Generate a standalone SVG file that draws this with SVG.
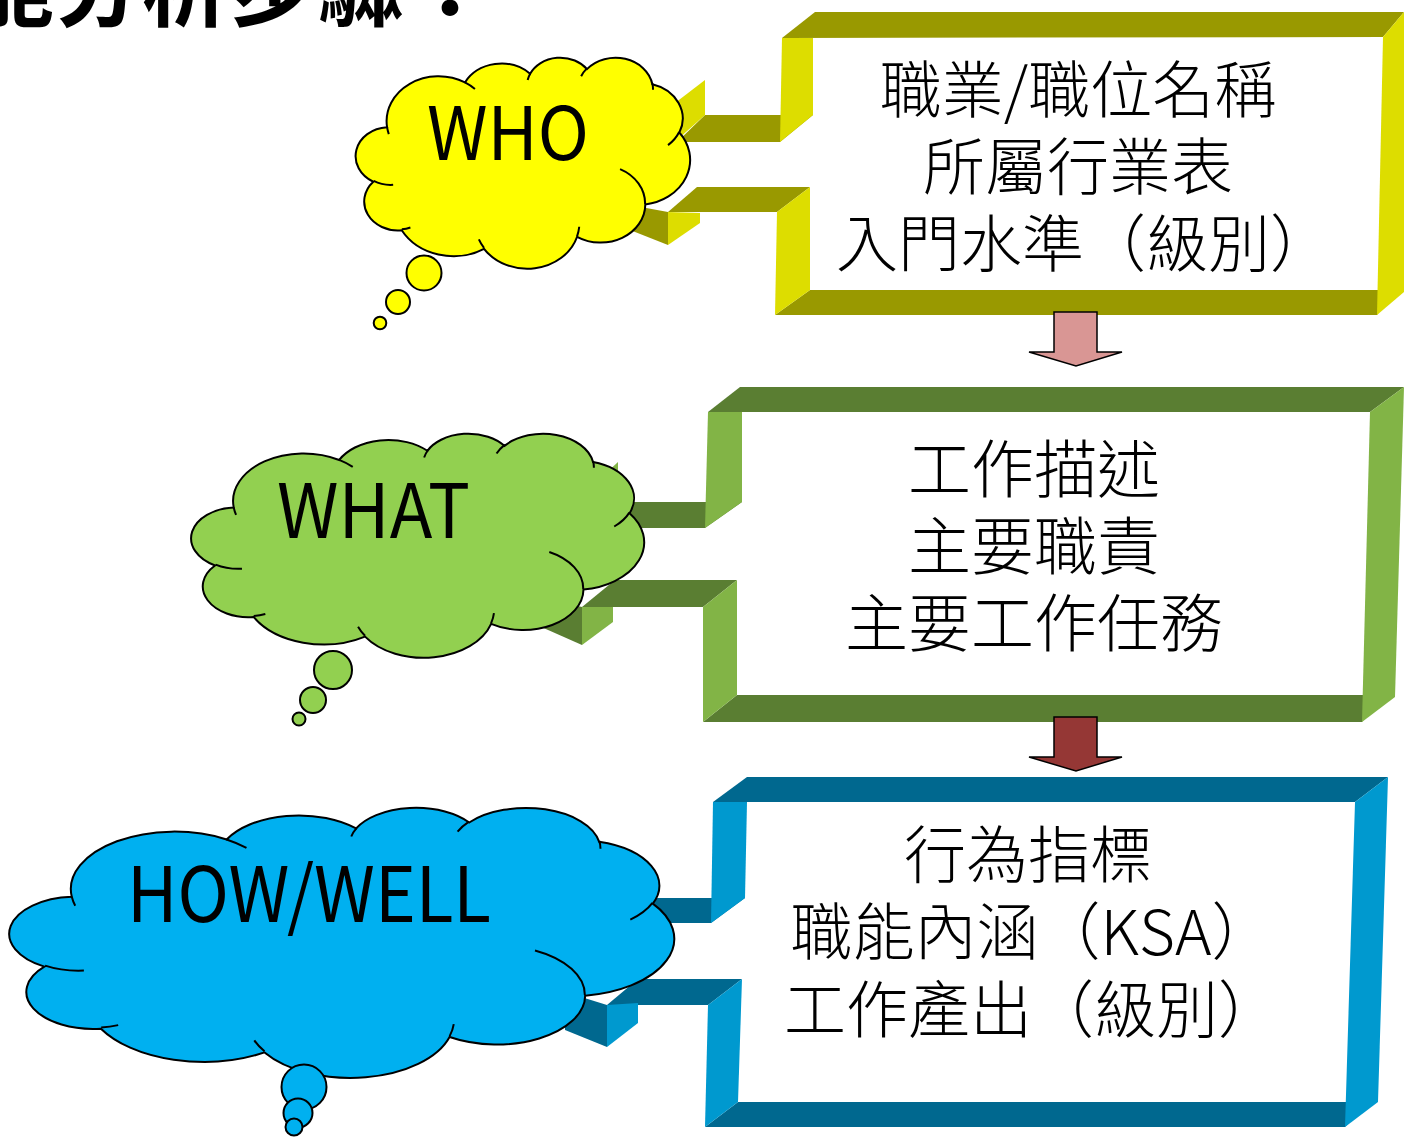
<svg xmlns="http://www.w3.org/2000/svg" width="1404" height="1137" viewBox="0 0 1404 1137">
<style>
.yd{fill:#999900}.yl{fill:#DDDD00}
.gd{fill:#5A7E32}.gl{fill:#82B446}
.bd{fill:#00688F}.bl{fill:#0099CF}
.cloud{stroke:#000;stroke-width:2}
.bubble{stroke:#000;stroke-width:2}
.lbl{font-family:"Noto Sans CJK TC","Noto Sans",sans-serif;fill:#000}
.txt{font-family:"Noto Sans CJK TC",sans-serif;text-anchor:middle;font-weight:300;fill:#000}
.arrow{stroke:#000;stroke-width:1.5}
</style>
<defs>
<path id="cloudShape" vector-effect="non-scaling-stroke" d="M 9.03 33.26 A 15.63 21.27 0 0 1 32.42 12.04 A 12.345 16.822 0 0 1 51.98 7.94 A 10.104 13.762 0 0 1 69.06 5.74 A 11.243 15.266 0 0 1 88.70 12.91 A 12.345 16.836 0 0 1 96.80 35.79 A 15.683 21.343 0 0 1 86.58 69.91 A 13.391 18.211 0 0 1 66.10 85.21 A 15.630 21.331 0 0 1 38.15 90.89 A 17.870 24.405 0 0 1 13.43 82.10 A 10.093 13.699 0 0 1 4.89 59.13 A 10.058 13.762 0 0 1 9.03 33.26 Z"/>
<path id="cloudInner" vector-effect="non-scaling-stroke" fill="none" d="M 10.86 60.59 A 10.058 13.762 0 0 1 5.00 58.75 M 16.04 80.78 A 10.093 13.699 0 0 1 13.47 81.67 M 38.14 90.49 A 15.630 21.331 0 0 1 36.60 86.45 M 66.73 80.44 A 15.630 21.331 0 0 1 66.11 84.86 M 79.00 53.13 A 13.391 18.211 0 0 1 86.53 69.65 M 96.75 35.54 A 12.345 16.836 0 0 1 93.40 41.74 M 88.71 12.56 A 11.243 15.266 0 0 1 88.89 15.49 M 67.31 9.15 A 11.243 15.266 0 0 1 69.03 5.41 M 51.25 10.93 A 10.104 13.762 0 0 1 52.08 7.71 M 32.41 12.02 A 15.632 21.273 0 0 1 35.42 15.14 M 9.55 36.55 A 15.632 21.273 0 0 1 9.03 33.26"/>
</defs>

<text x="-122" y="19" class="lbl" font-size="88" font-weight="bold">職能分析步驟：</text>

<g id="box-who">
<polygon class="yd" points="782,38 815,12 1404,12 1383,37"/>
<polygon class="yd" points="775,315 810,290 1395,290 1377,315"/>
<polygon class="yl" points="1383,37 1404,12 1404,292 1377,315"/>
<polygon class="yd" points="677,142 705,115 813,115 780,142"/>
<polygon class="yl" points="675,103 705,80 705,115 677,140"/>
<polygon class="yl" points="782,38 813,38 813,115 780,142"/>
<polygon class="yd" points="630,205 668,212 668,245 630,230"/>
<polygon class="yd" points="668,212 697,187 810,187 777,212"/>
<polygon class="yl" points="668,212 700,213 700,223 668,245"/>
<polygon class="yl" points="777,212 810,187 810,290 775,315"/>
<text class="txt" font-size="62" x="1078" y="113">職業/職位名稱</text>
<text class="txt" font-size="62" x="1078" y="190">所屬行業表</text>
<text class="txt" font-size="62" x="1084" y="267">入門水準（級別）</text>
</g>

<g id="box-what">
<polygon class="gd" points="708,412 740,387 1404,387 1370,412"/>
<polygon class="gd" points="703,722 737,695 1380,695 1362,722"/>
<polygon class="gl" points="1370,412 1404,387 1395,697 1362,722"/>
<polygon class="gd" points="590,528 618,502 742,502 705,528"/>
<polygon class="gl" points="590,488 618,462 618,502 590,528"/>
<polygon class="gl" points="708,412 742,412 742,502 705,528"/>
<polygon class="gd" points="530,595 582,607 582,645 530,622"/>
<polygon class="gd" points="582,607 615,580 737,580 703,607"/>
<polygon class="gl" points="582,607 613,607 613,622 582,645"/>
<polygon class="gl" points="703,607 737,580 737,695 703,722"/>
<text class="txt" font-size="63" x="1034" y="492">工作描述</text>
<text class="txt" font-size="63" x="1034" y="569">主要職責</text>
<text class="txt" font-size="63" x="1034" y="646">主要工作任務</text>
</g>

<g id="box-how">
<polygon class="bd" points="713,802 747,777 1388,777 1355,802"/>
<polygon class="bd" points="705,1127 738,1102 1370,1102 1345,1127"/>
<polygon class="bl" points="1355,802 1388,777 1378,1102 1345,1127"/>
<polygon class="bd" points="600,923 628,898 745,898 711,923"/>
<polygon class="bl" points="600,880 628,856 628,898 600,923"/>
<polygon class="bl" points="713,802 747,802 745,898 711,923"/>
<polygon class="bd" points="565,992 607,1005 607,1047 565,1030"/>
<polygon class="bd" points="607,1005 638,979 742,979 708,1005"/>
<polygon class="bl" points="607,1005 638,1003 638,1023 607,1047"/>
<polygon class="bl" points="708,1005 742,979 738,1102 705,1127"/>
<text class="txt" font-size="62" x="1028" y="878">行為指標</text>
<text class="txt" font-size="62" x="1032" y="955">職能內涵（KSA）</text>
<text class="txt" font-size="62" x="1032" y="1033">工作產出（級別）</text>
</g>

<g id="cloud-who" fill="#FFFF00">
<use href="#cloudShape" class="cloud" transform="translate(357 57) scale(3.33 2.11)"/>
<use href="#cloudInner" class="cloud" transform="translate(357 57) scale(3.33 2.11)"/>
<circle class="bubble" cx="424" cy="273" r="17.5"/>
<circle class="bubble" cx="398" cy="302" r="12"/>
<circle class="bubble" cx="380" cy="323" r="6.3"/>
<text class="lbl" x="427" y="160" font-size="73" textLength="162" lengthAdjust="spacingAndGlyphs">WHO</text>
</g>

<g id="cloud-what" fill="#92D050">
<use href="#cloudShape" class="cloud" transform="translate(193 433) scale(4.51 2.24)"/>
<use href="#cloudInner" class="cloud" transform="translate(193 433) scale(4.51 2.24)"/>
<circle class="bubble" cx="333" cy="670" r="19"/>
<circle class="bubble" cx="313" cy="700" r="13"/>
<circle class="bubble" cx="299" cy="719" r="6.5"/>
<text class="lbl" x="277" y="538" font-size="75" textLength="193" lengthAdjust="spacingAndGlyphs">WHAT</text>
</g>

<g id="cloud-how" fill="#00B0F0">
<use href="#cloudShape" class="cloud" transform="translate(12 807) scale(6.62 2.70)"/>
<use href="#cloudInner" class="cloud" transform="translate(12 807) scale(6.62 2.70)"/>
<circle class="bubble" cx="304" cy="1087" r="22.5"/>
<circle class="bubble" cx="298" cy="1113" r="14.5"/>
<circle class="bubble" cx="294" cy="1127" r="8.5"/>
<text class="lbl" x="127" y="922" font-size="77" textLength="364" lengthAdjust="spacingAndGlyphs">HOW/WELL</text>
</g>

<g id="connectors">
<polygon class="arrow" fill="#D99694" points="1054,312 1097,312 1097,352 1122,352 1076,366 1029,352 1054,352"/>
<polygon class="arrow" fill="#953735" points="1054,717 1097,717 1097,757 1122,757 1076,771 1029,757 1054,757"/>
</g>
</svg>
